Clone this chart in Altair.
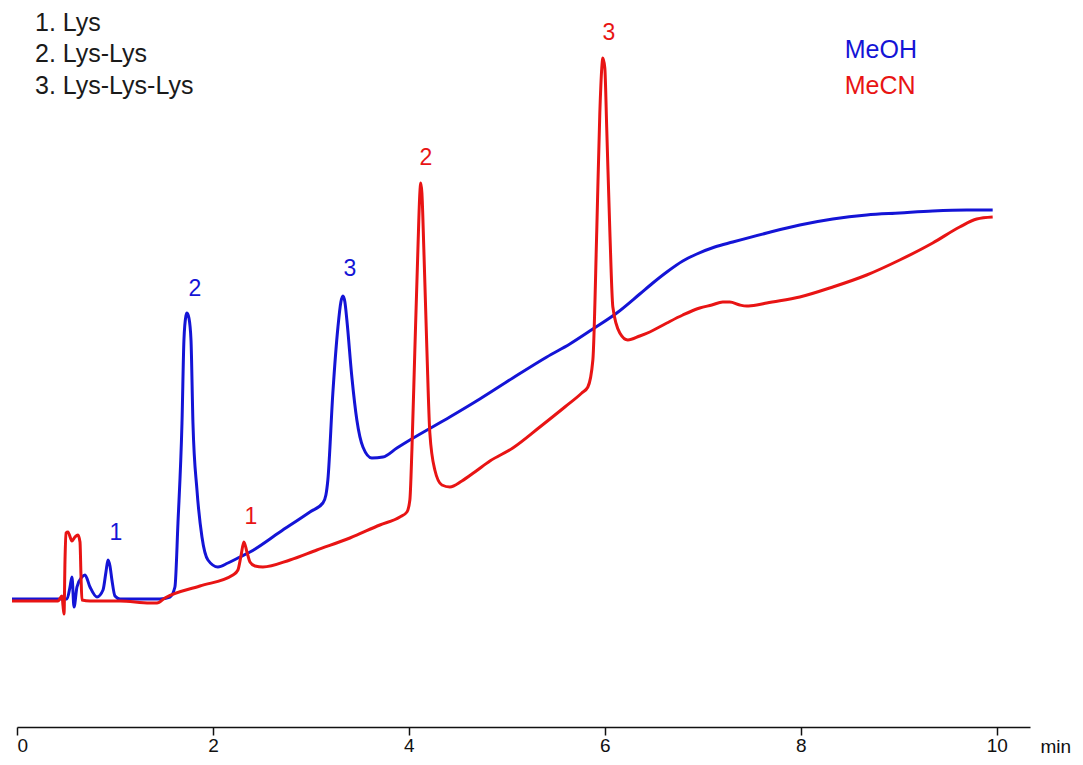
import altair as alt
import pandas as pd

# ---- MeOH trace (time in min, detector signal in arbitrary units) ----
meoh_t = [-0.051, 0.439, 0.510, 0.541, 0.561, 0.582, 0.612, 0.663, 0.694, 0.745, 0.816, 0.878,
          0.908, 0.929, 0.949, 0.969, 1.000, 1.051, 1.459, 1.561, 1.612, 1.643, 1.684, 1.704,
          1.724, 1.735, 1.755, 1.776, 1.796, 1.837, 1.888, 1.949, 2.051, 2.153, 2.276, 2.378,
          2.684, 2.990, 3.122, 3.153, 3.173, 3.224, 3.276, 3.306, 3.327, 3.347, 3.367, 3.418,
          3.469, 3.531, 3.622, 3.735, 3.878, 4.010, 4.418, 4.724, 5.061, 5.408, 5.643, 5.878,
          6.122, 6.357, 6.490, 6.633, 6.796, 6.939, 7.122, 7.306, 7.653, 7.990, 8.327, 8.673,
          9.010, 9.347, 9.694, 9.959]
meoh_s = [1, 1, 1, 13, 23, -7, 13, 23, 25, 13, 3, 10,
          28, 40, 34, 20, 4, 1, 1, 3, 13, 77, 177, 260,
          284, 287, 282, 260, 177, 110, 63, 40, 33, 37, 43, 48,
          68, 88, 97, 105, 120, 207, 273, 298, 304, 298, 280, 223,
          180, 153, 142, 143, 152, 160, 183, 201, 222, 243, 256, 271,
          287, 306, 317, 328, 339, 346, 353, 358, 367, 375, 381, 385,
          387, 389, 390, 390]

# ---- MeCN trace ----
mecn_t = [-0.051, 0.418, 0.459, 0.469, 0.480, 0.490, 0.500, 0.520, 0.561, 0.592, 0.622, 0.643,
          0.653, 0.663, 0.745, 1.051, 1.357, 1.429, 1.510, 1.867, 2.204, 2.255, 2.286, 2.316,
          2.347, 2.378, 2.429, 2.510, 2.786, 3.061, 3.398, 3.704, 3.908, 3.980, 4.010, 4.031,
          4.061, 4.092, 4.112, 4.122, 4.133, 4.153, 4.184, 4.214, 4.265, 4.337, 4.418, 4.541,
          4.673, 4.827, 5.061, 5.337, 5.592, 5.765, 5.827, 5.878, 5.918, 5.949, 5.969, 5.980,
          6.000, 6.020, 6.051, 6.082, 6.153, 6.235, 6.357, 6.459, 6.633, 6.796, 6.969, 7.092,
          7.204, 7.276, 7.378, 7.449, 7.551, 7.653, 7.990, 8.327, 8.673, 9.010, 9.347, 9.622,
          9.796, 9.959]
mecn_s = [-1, -1, 4, -5, -14, 40, 67, 68, 59, 63, 65, 58,
          25, 0, -1, -1, -3, -3, 2, 14, 25, 30, 44, 58,
          48, 38, 34, 33, 40, 50, 62, 75, 83, 88, 100, 150,
          250, 350, 407, 417, 407, 350, 250, 167, 130, 115, 113, 119,
          128, 139, 152, 173, 193, 207, 213, 240, 370, 487, 532, 542,
          532, 470, 370, 293, 267, 260, 264, 268, 277, 285, 292, 295,
          298, 298, 295, 294, 295, 297, 303, 313, 325, 340, 357, 373,
          381, 383]

# ---- peak labels ----
peak_text = ["1", "2", "3", "1", "2", "3"]
peak_t = [1.010, 1.816, 3.398, 2.388, 4.173, 6.041]
peak_s = [67, 311, 331, 83, 442, 567]
peak_series = ["MeOH", "MeOH", "MeOH", "MeCN", "MeCN", "MeCN"]

# ---- compound key & solvent key ----
key_text = ["1. Lys", "2. Lys-Lys", "3. Lys-Lys-Lys"]
key_t = [0.184, 0.184, 0.184]
key_s = [577, 546, 514]

solv_text = ["MeOH", "MeCN"]
solv_t = [8.449, 8.449]
solv_s = [550, 514]

tick_values = [0, 2, 4, 6, 8, 10]

BLUE = "#1414d6"
RED = "#e81414"
color_scale = alt.Scale(domain=["MeOH", "MeCN"], range=[BLUE, RED])

meoh_df = pd.DataFrame({"t": meoh_t, "s": meoh_s})
mecn_df = pd.DataFrame({"t": mecn_t, "s": mecn_s})

x_scale = alt.Scale(domain=[0, 10.34], nice=False, zero=False)
y_scale = alt.Scale(domain=[-127, 592], nice=False, zero=False)

x_enc = alt.X("t:Q", scale=x_scale, title="min",
              axis=alt.Axis(values=tick_values, format="d", grid=False, domainColor="#111",
                            domainWidth=1.5, tickColor="#111", tickWidth=1.5, tickSize=8,
                            labelFont="Liberation Sans Narrow, Liberation Sans, Arial",
                            labelFontSize=19, labelColor="#111", labelPadding=1,
                            titleFont="Liberation Sans Narrow, Liberation Sans, Arial",
                            titleFontSize=19, titleFontWeight="normal", titleColor="#111",
                            titleX=1023, titleY=19, titleAlign="left",
                            titleBaseline="middle"))
y_enc = alt.Y("s:Q", scale=y_scale, axis=None)

meoh_line = alt.Chart(meoh_df).mark_line(
    strokeWidth=3, interpolate="monotone", color=BLUE).encode(x=x_enc, y=y_enc)
mecn_line = alt.Chart(mecn_df).mark_line(
    strokeWidth=3, interpolate="monotone", color=RED).encode(x=x_enc, y=y_enc)

peaks = alt.Chart(pd.DataFrame({"t": peak_t, "s": peak_s, "label": peak_text,
                                "solvent": peak_series})).mark_text(
    font="Liberation Sans, Arial", fontSize=23, align="center", baseline="middle").encode(
    x="t:Q", y="s:Q", text="label:N",
    color=alt.Color("solvent:N", scale=color_scale, legend=None))

keys = alt.Chart(pd.DataFrame({"t": key_t, "s": key_s, "label": key_text})).mark_text(
    font="Liberation Sans, Arial", fontSize=25, align="left", baseline="middle",
    color="#1a1a1a").encode(x="t:Q", y="s:Q", text="label:N")

solv = alt.Chart(pd.DataFrame({"t": solv_t, "s": solv_s, "label": solv_text,
                               "solvent": solv_text})).mark_text(
    font="Liberation Sans, Arial", fontSize=25, align="left", baseline="middle").encode(
    x="t:Q", y="s:Q", text="label:N",
    color=alt.Color("solvent:N", scale=color_scale, legend=None))

chart = alt.layer(meoh_line, mecn_line, peaks, keys, solv).properties(
    width=1013, height=719,
    autosize=alt.AutoSizeParams(type="none"),
    padding={"left": 9, "top": 0, "right": 45, "bottom": 30},
).configure_view(stroke="transparent", strokeWidth=0)

chart.save("out.html", embed_options={"renderer": "svg", "actions": False})
